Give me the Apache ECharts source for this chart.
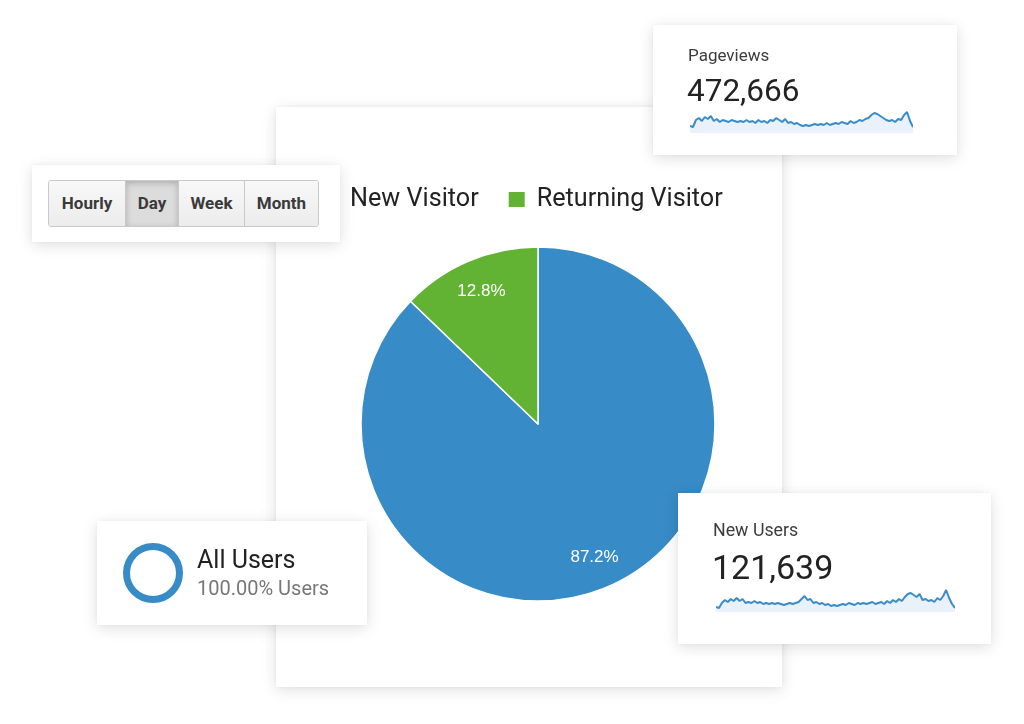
<!DOCTYPE html>
<html>
<head>
<meta charset="utf-8">
<script src="https://cdn.jsdelivr.net/npm/echarts@6/dist/echarts.min.js"></script>
<style>
  html, body { margin: 0; padding: 0; background: #ffffff; }
  body { width: 1024px; height: 724px; position: relative; overflow: hidden; font-family: Roboto, "Noto Sans", Arial, sans-serif; }
  .card { position: absolute; background: #fff; box-shadow: 0 3px 14px rgba(0,0,0,0.13), 0 0 3px rgba(0,0,0,0.05); }
  .txt { position: absolute; white-space: nowrap; line-height: 1; }
  .btns { position: absolute; left: 16px; top: 15px; display: flex; border: 1px solid #c9c9c9; border-radius: 3px; overflow: hidden; height: 45px; }
  .btn { height: 45px; line-height: 45px; text-align: center; font-weight: 700; font-size: 17px; color: #3a3a3a;
         background: linear-gradient(#f8f8f8, #ececec); border-left: 1px solid #c9c9c9; box-sizing: border-box; }
  .btn:first-child { border-left: none; }
  .btn.active { background: #dcdcdc; box-shadow: inset 0 2px 6px rgba(0,0,0,0.22); }
  .ring { position: absolute; box-sizing: border-box; border-radius: 50%; border: 7px solid #378bc6; }
</style>
</head>
<body>
<div class="card" id="mainCard" style="left:276px;top:107px;width:506px;height:580px;">
  <div id="pie" style="position:absolute;left:0;top:0;width:506px;height:580px;"></div>
</div>

<div class="card" id="btnCard" style="left:32px;top:165px;width:308px;height:77px;">
  <div class="btns" id="btns"></div>
</div>

<div class="card" id="pvCard" style="left:653px;top:25px;width:304px;height:130px;">
  <div class="txt" id="pvLabel" style="left:35px;top:22px;font-size:17px;color:#3c3c3c;"></div>
  <div class="txt" id="pvValue" style="left:34px;top:50px;font-size:31.5px;color:#222;"></div>
  <div id="pvSpark" style="position:absolute;left:37px;top:83px;width:223px;height:25px;"></div>
</div>

<div class="card" id="allCard" style="left:97px;top:521px;width:270px;height:104px;">
  <div class="ring" style="left:26px;top:22px;width:60px;height:60px;"></div>
  <div class="txt" id="allLabel" style="left:100px;top:26px;font-size:25px;color:#222;"></div>
  <div class="txt" id="allSub" style="left:100px;top:57px;font-size:20px;color:#777;"></div>
</div>

<div class="card" id="nuCard" style="left:678px;top:493px;width:313px;height:151px;">
  <div class="txt" id="nuLabel" style="left:35px;top:28px;font-size:17.8px;color:#3c3c3c;"></div>
  <div class="txt" id="nuValue" style="left:34px;top:57px;font-size:34px;color:#222;"></div>
  <div id="nuSpark" style="position:absolute;left:38px;top:94px;width:239px;height:25px;"></div>
</div>

<script>
// ---------- data ----------
var pieCategories = ['New Visitor', 'Returning Visitor'];
var pieValues = [87.2, 12.8];
var pieColors = ['#378bc6', '#62b233'];

var intervalButtons = ['Hourly', 'Day', 'Week', 'Month'];
var activeButton = 'Day';
var buttonWidths = [76, 53, 66, 74];

var pageviewsLabel = 'Pageviews';
var pageviewsTotal = '472,666';
var pageviewsTrend = [5,4,11,13,10,14,12,15,10,12,9,11,10,9,11,10,9,10,9,11,9,10,8,11,9,10,8,11,10,13,
                      11,9,12,8,9,7,8,6,5,6,5,6,7,6,7,6,8,6,7,8,7,9,8,7,10,8,9,11,10,12,
                      13,16,18,17,15,13,11,10,11,9,12,11,16,19,10,4];

var newUsersLabel = 'New Users';
var newUsersTotal = '121,639';
var newUsersTrend = [5,4,9,12,10,13,11,14,11,13,9,10,9,11,9,10,8,9,8,9,8,9,8,7,8,9,8,9,10,13,
                     16,12,13,9,10,8,9,7,8,6,7,6,7,8,7,9,8,7,9,8,9,8,9,10,8,9,10,8,11,9,
                     12,10,13,11,15,18,19,17,15,18,12,13,11,12,10,14,12,16,22,14,8,4];

var allUsersLabel = 'All Users';
var allUsersSub = '100.00% Users';

// ---------- text ----------
document.getElementById('pvLabel').textContent = pageviewsLabel;
document.getElementById('pvValue').textContent = pageviewsTotal;
document.getElementById('nuLabel').textContent = newUsersLabel;
document.getElementById('nuValue').textContent = newUsersTotal;
document.getElementById('allLabel').textContent = allUsersLabel;
document.getElementById('allSub').textContent = allUsersSub;

var btns = document.getElementById('btns');
intervalButtons.forEach(function (b, i) {
  var d = document.createElement('div');
  d.className = 'btn' + (b === activeButton ? ' active' : '');
  d.style.width = buttonWidths[i] + 'px';
  d.textContent = b;
  btns.appendChild(d);
});

// ---------- pie ----------
var pieData = pieCategories.map(function (n, i) {
  return { name: n, value: pieValues[i], itemStyle: { color: pieColors[i] } };
});
var labelData = pieCategories.map(function (n, i) {
  return { name: n, value: pieValues[i], itemStyle: { color: 'rgba(0,0,0,0)' } };
});
var pie = echarts.init(document.getElementById('pie'), null, { renderer: 'canvas' });
pie.setOption({
  animation: false,
  legend: {
    data: pieCategories,
    left: 39,
    top: 75,
    itemWidth: 18,
    itemHeight: 17,
    itemGap: 28,
    icon: 'rect',
    selectedMode: false,
    textStyle: { fontSize: 25.2, color: '#222', fontFamily: 'Roboto', padding: [0, 0, 0, 6], lineHeight: 24 }
  },
  series: [
    {
      type: 'pie',
      center: [262, 317],
      radius: 177,
      startAngle: 90,
      clockwise: true,
      silent: true,
      label: { show: false },
      labelLine: { show: false },
      itemStyle: { borderColor: '#fff', borderWidth: 1.5 },
      data: pieData
    },
    {
      type: 'pie',
      center: [262, 317],
      radius: [106, 177],
      startAngle: 90,
      clockwise: true,
      silent: true,
      label: {
        show: true, position: 'inside', formatter: '{c}%',
        color: '#fff', fontSize: 17, fontFamily: '"Liberation Sans", Arial, sans-serif', fontWeight: 'normal',
        textBorderWidth: 0
      },
      labelLine: { show: false },
      data: labelData
    }
  ]
});

// ---------- sparklines ----------
function spark(id, values, yMin, yMax) {
  var c = echarts.init(document.getElementById(id));
  c.setOption({
    animation: false,
    grid: { left: 0, right: 0, top: 0, bottom: 0 },
    xAxis: { type: 'category', show: false, boundaryGap: false, data: values.map(function (v, i) { return i; }) },
    yAxis: { type: 'value', show: false, min: yMin, max: yMax },
    series: [{
      type: 'line', data: values, symbol: 'none', silent: true,
      lineStyle: { color: '#3a8cc8', width: 2 },
      areaStyle: { color: '#e9f2fa', origin: 'start', opacity: 1 }
    }]
  });
}
spark('pvSpark', pageviewsTrend, -2, 23);
spark('nuSpark', newUsersTrend, 0, 25);
</script>
</body>
</html>
